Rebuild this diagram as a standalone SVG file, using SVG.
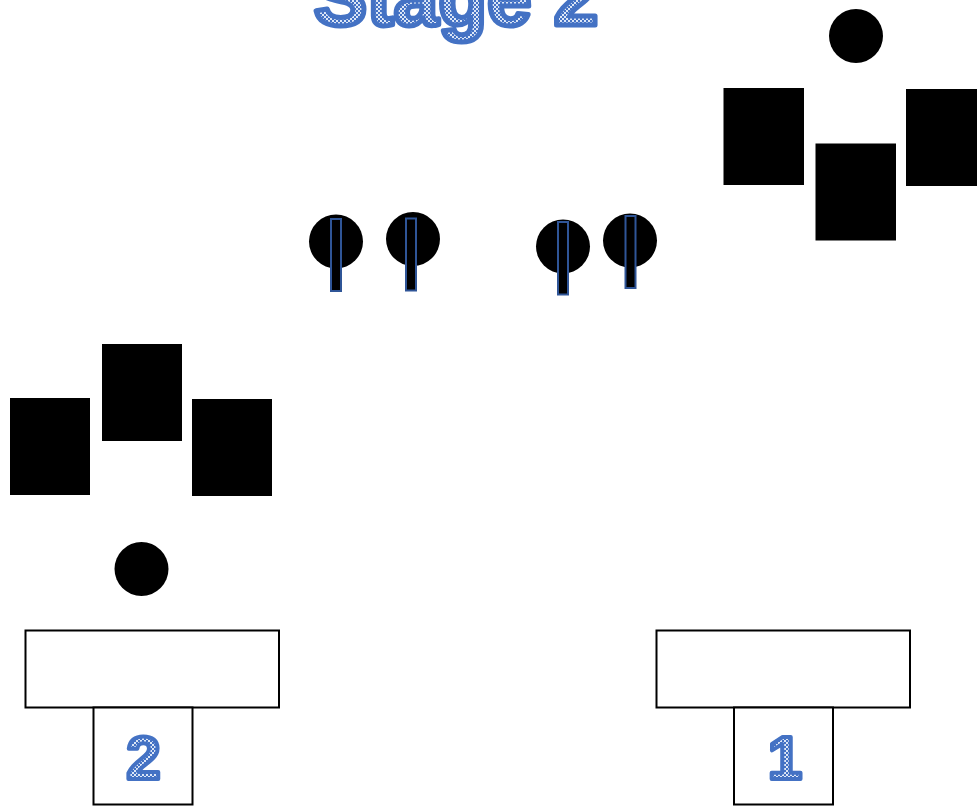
<svg xmlns="http://www.w3.org/2000/svg" width="977" height="806" viewBox="0 0 977 806">
<defs>
<pattern id="chk" width="4" height="4" patternUnits="userSpaceOnUse">
<rect width="4" height="4" fill="#4472C4"/>
<rect width="2" height="2" fill="#DCE6F6"/>
<rect x="2" y="2" width="2" height="2" fill="#DCE6F6"/>
</pattern>
<style>
.blk{fill:#000}
.bar{fill:#000;stroke:#2F5597;stroke-width:2}
.box{fill:#fff;stroke:#000;stroke-width:2}
.lbl{font-family:"Liberation Sans",Arial,sans-serif;font-weight:bold;fill:url(#chk);stroke:#4472C4;stroke-linejoin:round;text-anchor:middle}
</style>
</defs>
<rect width="977" height="806" fill="#fff"/>
<text id="title" class="lbl" x="456" y="25" font-size="80" stroke-width="5">Stage 2</text>
<g id="group-top-right">
<circle class="blk" cx="856" cy="36" r="27"/>
<rect class="blk" x="723.5" y="88" width="80.5" height="97"/>
<rect class="blk" x="815.5" y="143.5" width="80.5" height="97"/>
<rect class="blk" x="906" y="89" width="71" height="97"/>
</g>
<g id="group-left">
<rect class="blk" x="10" y="398" width="80" height="97"/>
<rect class="blk" x="102" y="344" width="80" height="97"/>
<rect class="blk" x="192" y="399" width="80" height="97"/>
<circle class="blk" cx="141.5" cy="569" r="27"/>
</g>
<g id="pin1"><circle class="blk" cx="336" cy="241.5" r="27"/><rect class="bar" x="331" y="219" width="10" height="72"/></g>
<g id="pin2"><circle class="blk" cx="413" cy="239" r="27"/><rect class="bar" x="406" y="218.5" width="10" height="72"/></g>
<g id="pin3"><circle class="blk" cx="563" cy="246.5" r="27"/><rect class="bar" x="558" y="222" width="10" height="72.5"/></g>
<g id="pin4"><circle class="blk" cx="630" cy="240.5" r="27"/><rect class="bar" x="625.5" y="216" width="10" height="72"/></g>
<g id="base2">
<rect class="box" x="25.5" y="630.5" width="253.5" height="77"/>
<rect class="box" x="93.5" y="707.5" width="99" height="97"/>
<text class="lbl" x="143.5" y="779" font-size="62" stroke-width="4">2</text>
</g>
<g id="base1">
<rect class="box" x="656.5" y="630.5" width="253.5" height="77"/>
<rect class="box" x="734" y="707.5" width="99" height="97"/>
<text class="lbl" x="785" y="779" font-size="62" stroke-width="4">1</text>
</g>
<g id="connectors"></g>
</svg>
